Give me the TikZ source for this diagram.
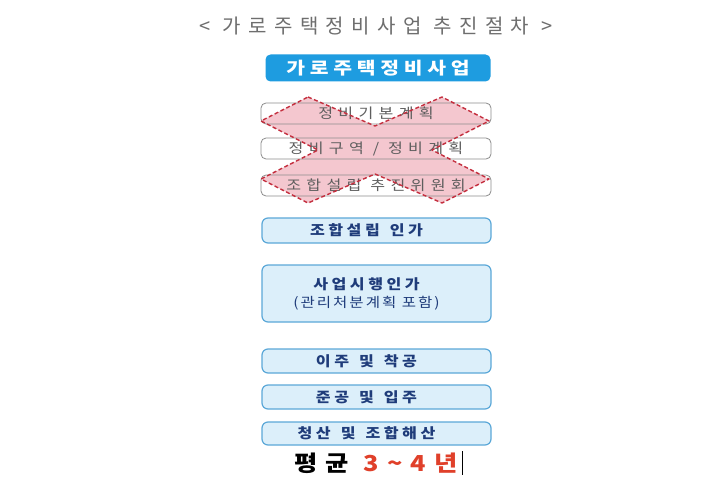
\documentclass[tikz,border=0pt]{standalone}
\usepackage{fontspec}
\newfontfamily\kr{Noto Sans CJK KR}
\definecolor{topblue}{HTML}{1E9CE0}
\definecolor{lightblue}{HTML}{DCEFFA}
\definecolor{bordblue}{HTML}{5BA8D8}
\definecolor{navy}{HTML}{1F3C7A}
\definecolor{xpink}{HTML}{F2BAC3}
\definecolor{xred}{HTML}{C42E3E}
\definecolor{oldborder}{HTML}{8C8C8C}
\definecolor{oldtext}{HTML}{5E5E5E}
\definecolor{titlegray}{HTML}{6E6E6E}
\definecolor{yearred}{HTML}{E0402A}
\newcommand{\wsp}{\hspace{10pt}}
\begin{document}
\begin{tikzpicture}[x=1pt,y=-1pt,
  topbox/.style={rounded corners=5pt, fill=topblue, minimum width=225pt, minimum height=27pt, inner sep=0pt, text=white,
    font=\kr\bfseries\fontsize{17}{17}\selectfont\addfontfeature{FakeStretch=1.2,LetterSpace=28}},
  stepbox/.style={rounded corners=6pt, draw=bordblue, line width=1.2pt, fill=lightblue, minimum width=229pt, inner sep=0pt},
  steptext/.style={inner sep=0pt, text=navy, align=center,
    font=\kr\bfseries\fontsize{14}{16}\selectfont\addfontfeature{FakeStretch=1.15,LetterSpace=25}},
  oldbg/.style={rounded corners=5pt, fill=white, minimum width=230pt, minimum height=21pt, inner sep=0pt},
  oldbox/.style={rounded corners=5pt, draw=oldborder, line width=0.8pt, minimum width=230pt, minimum height=21pt, inner sep=0pt, text=oldtext,
    font=\kr\fontsize{14}{14}\selectfont\addfontfeature{FakeStretch=1.15,LetterSpace=38}},
]
\useasboundingbox (0,0) rectangle (720,500);
\fill[white] (0,0) rectangle (720,500);

% title
\node[text=titlegray, font=\kr\fontsize{20}{20}\selectfont\addfontfeature{LetterSpace=37}] (title) at (376,26.5) {< 가로주택정비사업 추진절차 >};

% top box
\node[topbox] (top) at (378,68) {가로주택정비사업};

% crossed-out boxes: white backgrounds
\node[oldbg] (bg1) at (376,113.5) {};
\node[oldbg] (bg2) at (376,148.5) {};
\node[oldbg] (bg3) at (376,185.5) {};

% X fill
\fill[xpink, fill opacity=0.8]
  (308,97) -- (375,126) -- (442,97) -- (489,121) -- (432,150) -- (489,179) -- (442,203)
  -- (375,174) -- (308,203) -- (261,179) -- (318,150) -- (261,121) -- cycle;

\node[oldbox] (old1) at (376,113.5) {정비기본계획};
\node[oldbox] (old2) at (376,148.5) {정비구역 / 정비계획};
\node[oldbox] (old3) at (376,185.5) {조합설립 추진위원회};

% X outline
\draw[xred, line width=1.4pt, dash pattern=on 4pt off 2.5pt, line join=round]
  (308,97) -- (375,126) -- (442,97) -- (489,121) -- (432,150) -- (489,179) -- (442,203)
  -- (375,174) -- (308,203) -- (261,179) -- (318,150) -- (261,121) -- cycle;

% steps
\node[stepbox, minimum height=25pt] (s1) at (376.5,230.5) {};
\node[stepbox, minimum height=57pt] (s2) at (376.5,293.5) {};
\node[stepbox, minimum height=24pt] (s3) at (376.5,361) {};
\node[stepbox, minimum height=24pt] (s4) at (376.5,397) {};
\node[stepbox, minimum height=23pt] (s5) at (376.5,433.5) {};

\node[steptext] (t1) at ([xshift=-10pt]s1.center) {조합설립\wsp 인가};
\node[steptext] (t2) at ([xshift=-10pt]s2.center)
  {사업시행인가\\[2pt]{\mdseries\fontsize{13.5}{15}\selectfont\addfontfeature{FakeStretch=1.15,LetterSpace=15}(관리처분계획 포함)}};
\node[steptext] (t3) at ([xshift=-10pt]s3.center) {이주\wsp 및\wsp 착공};
\node[steptext] (t4) at ([xshift=-10pt]s4.center) {준공\wsp 및\wsp 입주};
\node[steptext] (t5) at ([xshift=-10pt]s5.center) {청산\wsp 및\wsp 조합해산};

% average duration
\node[font=\kr\bfseries\fontsize{22}{22}\selectfont\addfontfeature{FakeStretch=1.15,LetterSpace=38}] (avg) at (376,463)
  {평균 \textcolor{yearred}{3\char"007E 4년}};
\draw[black, line width=0.9pt] ([xshift=1pt]avg.east |- 0,451) -- ([xshift=1pt]avg.east |- 0,475);
\end{tikzpicture}
\end{document}
